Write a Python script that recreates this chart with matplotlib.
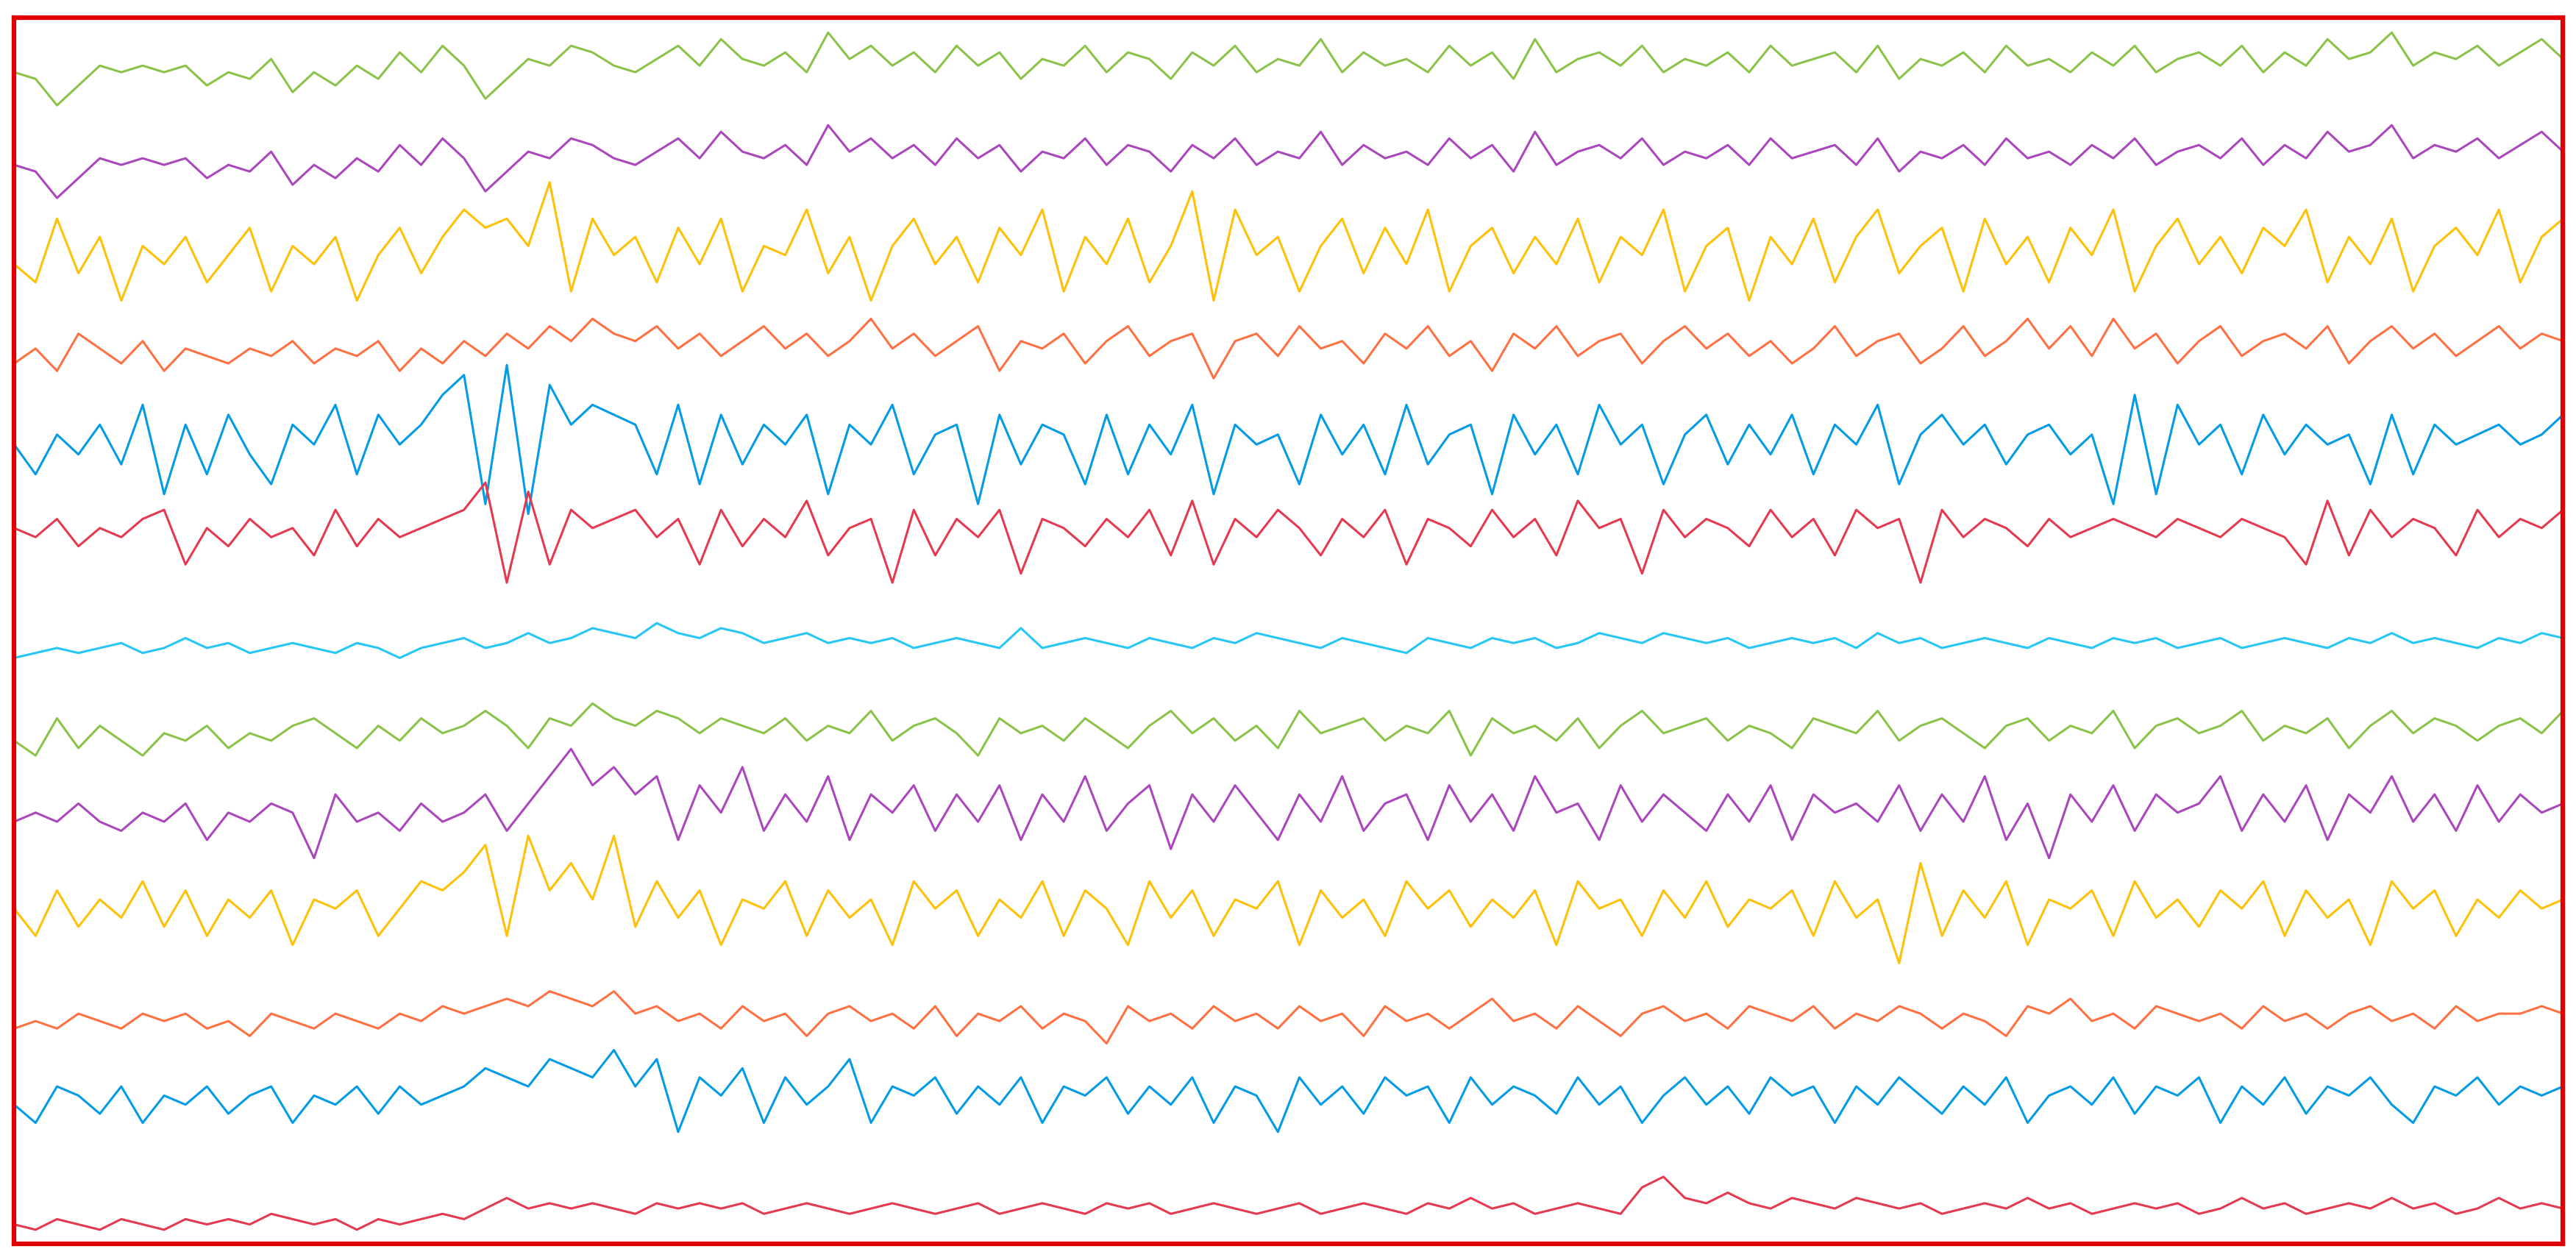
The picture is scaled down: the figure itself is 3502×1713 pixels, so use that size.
import matplotlib
matplotlib.use("Agg")
import matplotlib.pyplot as plt
import numpy as np

# channel traces, values (coarse sampling)
ch01 = [2, 1, -3, 0, 3, 2, 3, 2, 3, 0, 2, 1, 4, -1, 2, 0, 3, 1, 5, 2, 6, 3, -2, 1, 4, 3, 6, 5, 3, 2, 4, 6, 3, 7, 4, 3, 5, 2, 8, 4, 6, 3, 5, 2, 6, 3, 5, 1, 4, 3, 6, 2, 5, 4, 1, 5, 3, 6, 2, 4, 3, 7, 2, 5, 3, 4, 2, 6, 3, 5, 1, 7, 2, 4, 5, 3, 6, 2, 4, 3, 5, 2, 6, 3, 4, 5, 2, 6, 1, 4, 3, 5, 2, 6, 3, 4, 2, 5, 3, 6, 2, 4, 5, 3, 6, 2, 5, 3, 7, 4, 5, 8, 3, 5, 4, 6, 3, 5, 7, 4]
ch02 = [2, 1, -3, 0, 3, 2, 3, 2, 3, 0, 2, 1, 4, -1, 2, 0, 3, 1, 5, 2, 6, 3, -2, 1, 4, 3, 6, 5, 3, 2, 4, 6, 3, 7, 4, 3, 5, 2, 8, 4, 6, 3, 5, 2, 6, 3, 5, 1, 4, 3, 6, 2, 5, 4, 1, 5, 3, 6, 2, 4, 3, 7, 2, 5, 3, 4, 2, 6, 3, 5, 1, 7, 2, 4, 5, 3, 6, 2, 4, 3, 5, 2, 6, 3, 4, 5, 2, 6, 1, 4, 3, 5, 2, 6, 3, 4, 2, 5, 3, 6, 2, 4, 5, 3, 6, 2, 5, 3, 7, 4, 5, 8, 3, 5, 4, 6, 3, 5, 7, 4]
ch03 = [0, -2, 5, -1, 3, -4, 2, 0, 3, -2, 1, 4, -3, 2, 0, 3, -4, 1, 4, -1, 3, 6, 4, 5, 2, 9, -3, 5, 1, 3, -2, 4, 0, 5, -3, 2, 1, 6, -1, 3, -4, 2, 5, 0, 3, -2, 4, 1, 6, -3, 3, 0, 5, -2, 2, 8, -4, 6, 1, 3, -3, 2, 5, -1, 4, 0, 6, -3, 2, 4, -1, 3, 0, 5, -2, 3, 1, 6, -3, 2, 4, -4, 3, 0, 5, -2, 3, 6, -1, 2, 4, -3, 5, 0, 3, -2, 4, 1, 6, -3, 2, 5, 0, 3, -1, 4, 2, 6, -2, 3, 0, 5, -3, 2, 4, 1, 6, -2, 3, 5]
ch04 = [0, 2, -1, 4, 2, 0, 3, -1, 2, 1, 0, 2, 1, 3, 0, 2, 1, 3, -1, 2, 0, 3, 1, 4, 2, 5, 3, 6, 4, 3, 5, 2, 4, 1, 3, 5, 2, 4, 1, 3, 6, 2, 4, 1, 3, 5, -1, 3, 2, 4, 0, 3, 5, 1, 3, 4, -2, 3, 4, 1, 5, 2, 3, 0, 4, 2, 5, 1, 3, -1, 4, 2, 5, 1, 3, 4, 0, 3, 5, 2, 4, 1, 3, 0, 2, 5, 1, 3, 4, 0, 2, 5, 1, 3, 6, 2, 5, 1, 6, 2, 4, 0, 3, 5, 1, 3, 4, 2, 5, 0, 3, 5, 2, 4, 1, 3, 5, 2, 4, 3]
ch05 = [1, -2, 2, 0, 3, -1, 5, -4, 3, -2, 4, 0, -3, 3, 1, 5, -2, 4, 1, 3, 6, 8, -5, 9, -6, 7, 3, 5, 4, 3, -2, 5, -3, 4, -1, 3, 1, 4, -4, 3, 1, 5, -2, 2, 3, -5, 4, -1, 3, 2, -3, 4, -2, 3, 0, 5, -4, 3, 1, 2, -3, 4, 0, 3, -2, 5, -1, 2, 3, -4, 4, 0, 3, -2, 5, 1, 3, -3, 2, 4, -1, 3, 0, 4, -2, 3, 1, 5, -3, 2, 4, 1, 3, -1, 2, 3, 0, 2, -5, 6, -4, 5, 1, 3, -2, 4, 0, 3, 1, 2, -3, 4, -2, 3, 1, 2, 3, 1, 2, 4]
ch06 = [1, 0, 2, -1, 1, 0, 2, 3, -3, 1, -1, 2, 0, 1, -2, 3, -1, 2, 0, 1, 2, 3, 6, -5, 5, -3, 3, 1, 2, 3, 0, 2, -3, 3, -1, 2, 0, 4, -2, 1, 2, -5, 3, -2, 2, 0, 3, -4, 2, 1, -1, 2, 0, 3, -2, 4, -3, 2, 0, 3, 1, -2, 2, 0, 3, -3, 2, 1, -1, 3, 0, 2, -2, 4, 1, 2, -4, 3, 0, 2, 1, -1, 3, 0, 2, -2, 3, 1, 2, -5, 3, 0, 2, 1, -1, 2, 0, 1, 2, 1, 0, 2, 1, 0, 2, 1, 0, -3, 4, -2, 3, 0, 2, 1, -2, 3, 0, 2, 1, 3]
ch07 = [-2, -1, 0, -1, 0, 1, -1, 0, 2, 0, 1, -1, 0, 1, 0, -1, 1, 0, -2, 0, 1, 2, 0, 1, 3, 1, 2, 4, 3, 2, 5, 3, 2, 4, 3, 1, 2, 3, 1, 2, 1, 2, 0, 1, 2, 1, 0, 4, 0, 1, 2, 1, 0, 2, 1, 0, 2, 1, 3, 2, 1, 0, 2, 1, 0, -1, 2, 1, 0, 2, 1, 2, 0, 1, 3, 2, 1, 3, 2, 1, 2, 0, 1, 2, 1, 2, 0, 3, 1, 2, 0, 1, 2, 1, 0, 2, 1, 0, 2, 1, 2, 0, 1, 2, 0, 1, 2, 1, 0, 2, 1, 3, 1, 2, 1, 0, 2, 1, 3, 2]
ch08 = [0, -2, 3, -1, 2, 0, -2, 1, 0, 2, -1, 1, 0, 2, 3, 1, -1, 2, 0, 3, 1, 2, 4, 2, -1, 3, 2, 5, 3, 2, 4, 3, 1, 3, 2, 1, 3, 0, 2, 1, 4, 0, 2, 3, 1, -2, 3, 1, 2, 0, 3, 1, -1, 2, 4, 1, 3, 0, 2, -1, 4, 1, 2, 3, 0, 2, 1, 4, -2, 3, 1, 2, 0, 3, -1, 2, 4, 1, 2, 3, 0, 2, 1, -1, 3, 2, 1, 4, 0, 2, 3, 1, -1, 2, 3, 0, 2, 1, 4, -1, 2, 3, 1, 2, 4, 0, 2, 1, 3, -1, 2, 4, 1, 3, 2, 0, 2, 3, 1, 4]
ch09 = [0, 1, 0, 2, 0, -1, 1, 0, 2, -2, 1, 0, 2, 1, -4, 3, 0, 1, -1, 2, 0, 1, 3, -1, 2, 5, 8, 4, 6, 3, 5, -2, 4, 1, 6, -1, 3, 0, 5, -2, 3, 1, 4, -1, 3, 0, 4, -2, 3, 0, 5, -1, 2, 4, -3, 3, 0, 4, 1, -2, 3, 0, 5, -1, 2, 3, -2, 4, 0, 3, -1, 5, 1, 2, -2, 4, 0, 3, 1, -1, 3, 0, 4, -2, 3, 1, 2, 0, 4, -1, 3, 0, 5, -2, 2, -4, 3, 0, 4, -1, 3, 1, 2, 5, -1, 3, 0, 4, -2, 3, 1, 5, 0, 3, -1, 4, 0, 3, 1, 2]
ch10 = [1, -2, 3, -1, 2, 0, 4, -1, 3, -2, 2, 0, 3, -3, 2, 1, 3, -2, 1, 4, 3, 5, 8, -2, 9, 3, 6, 2, 9, -1, 4, 0, 3, -3, 2, 1, 4, -2, 3, 0, 2, -3, 4, 1, 3, -2, 2, 0, 4, -2, 3, 1, -3, 4, 0, 3, -2, 2, 1, 4, -3, 3, 0, 2, -2, 4, 1, 3, -1, 2, 0, 3, -3, 4, 1, 2, -2, 3, 0, 4, -1, 2, 1, 3, -2, 4, 0, 2, -5, 6, -2, 3, 0, 4, -3, 2, 1, 3, -2, 4, 0, 2, -1, 3, 1, 4, -2, 3, 0, 2, -3, 4, 1, 3, -2, 2, 0, 3, 1, 2]
ch11 = [0, 1, 0, 2, 1, 0, 2, 1, 2, 0, 1, -1, 2, 1, 0, 2, 1, 0, 2, 1, 3, 2, 3, 4, 3, 5, 4, 3, 5, 2, 3, 1, 2, 0, 3, 1, 2, -1, 2, 3, 1, 2, 0, 3, -1, 2, 1, 3, 0, 2, 1, -2, 3, 1, 2, 0, 3, 1, 2, 0, 3, 1, 2, -1, 3, 1, 2, 0, 2, 4, 1, 2, 0, 3, 1, -1, 2, 3, 1, 2, 0, 3, 2, 1, 3, 0, 2, 1, 3, 2, 0, 2, 1, -1, 3, 2, 4, 1, 2, 0, 3, 2, 1, 2, 0, 3, 1, 2, 0, 2, 3, 1, 2, 0, 3, 1, 2, 2, 3, 2]
ch12 = [0, -2, 2, 1, -1, 2, -2, 1, 0, 2, -1, 1, 2, -2, 1, 0, 2, -1, 2, 0, 1, 2, 4, 3, 2, 5, 4, 3, 6, 2, 5, -3, 3, 1, 4, -2, 3, 0, 2, 5, -2, 2, 1, 3, -1, 2, 0, 3, -2, 2, 1, 3, -1, 2, 0, 3, -2, 2, 1, -3, 3, 0, 2, -1, 3, 1, 2, -2, 3, 0, 2, 1, -1, 3, 0, 2, -2, 1, 3, 0, 2, -1, 3, 1, 2, -2, 2, 0, 3, 1, -1, 2, 0, 3, -2, 1, 2, 0, 3, -1, 2, 1, 3, -2, 2, 0, 3, -1, 2, 1, 3, 0, -2, 2, 1, 3, 0, 2, 1, 2]
ch13 = [-2, -3, -1, -2, -3, -1, -2, -3, -1, -2, -1, -2, 0, -1, -2, -1, -3, -1, -2, -1, 0, -1, 1, 3, 1, 2, 1, 2, 1, 0, 2, 1, 2, 1, 2, 0, 1, 2, 1, 0, 1, 2, 1, 0, 1, 2, 0, 1, 2, 1, 0, 2, 1, 2, 0, 1, 2, 1, 0, 1, 2, 0, 1, 2, 1, 0, 2, 1, 3, 1, 2, 0, 1, 2, 1, 0, 5, 7, 3, 2, 4, 2, 1, 3, 2, 1, 3, 2, 1, 2, 0, 1, 2, 1, 3, 1, 2, 0, 1, 2, 1, 2, 0, 1, 3, 1, 2, 0, 1, 2, 1, 3, 1, 2, 0, 1, 3, 1, 2, 1]

channels = [ch01, ch02, ch03, ch04, ch05, ch06, ch07, ch08, ch09, ch10, ch11, ch12, ch13]
colors = ["#8bc34a", "#ab47bc", "#ffc107", "#ff7043", "#039be5", "#e53950",
          "#26c6f6", "#8bc34a", "#ab47bc", "#ffc107", "#ff7043", "#039be5", "#e53950"]
# layout: baseline of each trace and vertical gain (display px per unit)
centers = [52, 108, 160, 220, 275, 325, 392, 448, 497, 555, 622, 668, 734]
gains = [4.0, 4.0, 5.5, 4.5, 6.0, 5.5, 3.0, 4.5, 5.5, 5.5, 4.5, 5.5, 3.2]

fig = plt.figure(figsize=(35.02, 17.13), dpi=100)
ax = fig.add_axes([0.0055, 0.013, 0.9895, 0.973])

for vals, col, c0, g in zip(channels, colors, centers, gains):
    y = c0 - np.asarray(vals, dtype=float) * g
    x = np.arange(len(y))
    ax.plot(x, y, color=col, linewidth=2.2)

ax.set_xlim(0, len(ch01) - 1)
ax.set_ylim(752, 11)
ax.set_xticks([])
ax.set_yticks([])
for sp in ax.spines.values():
    sp.set_color("#e00000")
    sp.set_linewidth(4.5)

fig.savefig("out.png", dpi=100)
